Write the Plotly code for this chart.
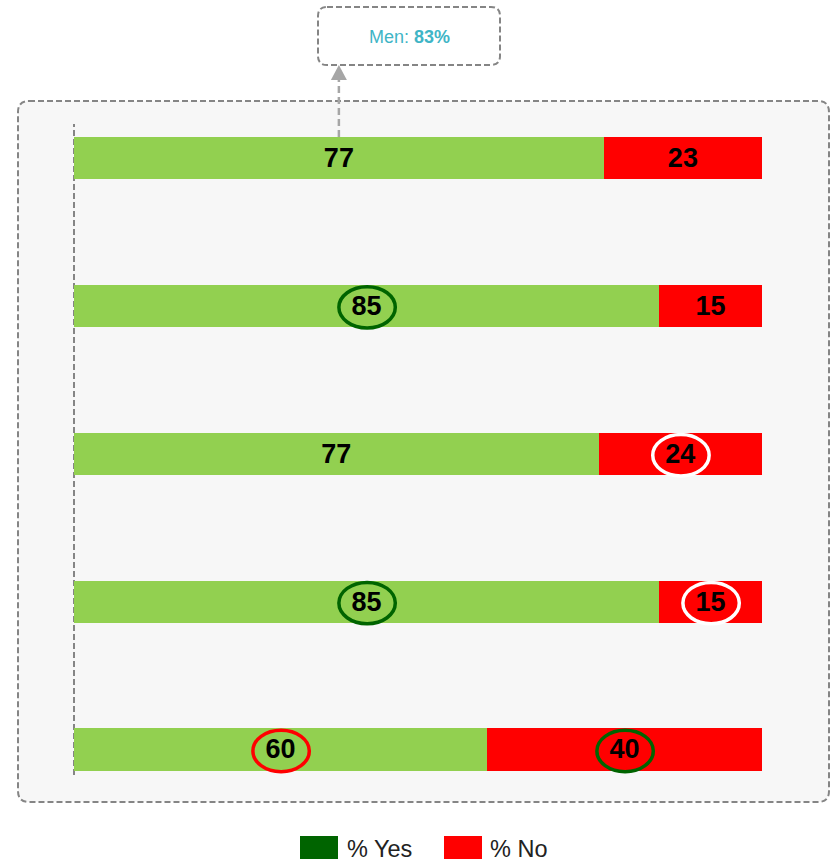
import plotly.graph_objects as go

# ---- data ----
categories = ["Q1", "Q2", "Q3", "Q4", "Q5"]
yes_values = [77, 85, 77, 85, 60]
no_values = [23, 15, 24, 15, 40]
yes_highlight = [None, "#006400", None, "#006400", "#ff0000"]
no_highlight = [None, None, "#ffffff", "#ffffff", "#006400"]
callout_text = "Men: <b>83%</b>"
legend_labels = ["% Yes", "% No"]

GREEN = "#92D050"
RED = "#FF0000"
DARK_GREEN = "#006400"
GREY = "#858585"

W, H = 831, 861
L, R, T, B = 74, 69, 124, 86
PW, PH = W - L - R, H - T - B


def X(px):
    return (px - L) / PW


def Y(py):
    return (H - B - py) / PH


def rounded_path(x0, y0, x1, y1, r):
    pts = []
    pts.append(f"M {X(x0 + r)},{Y(y0)}")
    pts.append(f"L {X(x1 - r)},{Y(y0)}")
    pts.append(f"Q {X(x1)},{Y(y0)} {X(x1)},{Y(y0 + r)}")
    pts.append(f"L {X(x1)},{Y(y1 - r)}")
    pts.append(f"Q {X(x1)},{Y(y1)} {X(x1 - r)},{Y(y1)}")
    pts.append(f"L {X(x0 + r)},{Y(y1)}")
    pts.append(f"Q {X(x0)},{Y(y1)} {X(x0)},{Y(y1 - r)}")
    pts.append(f"L {X(x0)},{Y(y0 + r)}")
    pts.append(f"Q {X(x0)},{Y(y0)} {X(x0 + r)},{Y(y0)}")
    pts.append("Z")
    return " ".join(pts)


label_font = dict(family="Liberation Sans, Arial", size=27, color="black")

fig = go.Figure()
fig.add_trace(go.Bar(
    y=categories, x=yes_values, orientation="h", name=legend_labels[0],
    marker=dict(color=GREEN, line=dict(width=0)), width=0.285,
    text=[f"<b>{v}</b>" for v in yes_values], textposition="inside",
    insidetextanchor="middle", textangle=0, textfont=label_font,
    showlegend=False, hoverinfo="skip",
))
fig.add_trace(go.Bar(
    y=categories, x=no_values, orientation="h", name=legend_labels[1],
    marker=dict(color=RED, line=dict(width=0)), width=0.285,
    text=[f"<b>{v}</b>" for v in no_values], textposition="inside",
    insidetextanchor="middle", textangle=0, textfont=label_font,
    showlegend=False, hoverinfo="skip",
))

shapes = []
# outer panel
shapes.append(dict(type="path", xref="paper", yref="paper",
                   path=rounded_path(18, 101, 829, 802, 11),
                   fillcolor="#f7f7f7", line=dict(color=GREY, width=2, dash="6px,3px"),
                   layer="below"))
# vertical axis line
shapes.append(dict(type="line", xref="paper", yref="paper", x0=0, x1=0, y0=0, y1=1,
                   line=dict(color=GREY, width=2, dash="6px,3px"), layer="below"))

# highlight ellipses
ew, eh = 8.2, 0.28
for i, (yv, nv) in enumerate(zip(yes_values, no_values)):
    tot = yv + nv
    yn = yv / tot * 100
    nn = nv / tot * 100
    cx_yes = yn / 2
    cx_no = yn + nn / 2
    for cx, col in ((cx_yes, yes_highlight[i]), (cx_no, no_highlight[i])):
        if col:
            shapes.append(dict(type="circle", xref="x", yref="y",
                               x0=cx - ew / 2 + 0.1, x1=cx + ew / 2 + 0.1,
                               y0=i - eh / 2 + 0.01, y1=i + eh / 2 + 0.01,
                               line=dict(color=col, width=3.5), layer="above"))

# callout arrow from first bar
arrow_x = yes_values[0] / (yes_values[0] + no_values[0]) * 100 / 2
shapes.append(dict(type="line", xref="x", yref="paper", x0=arrow_x, x1=arrow_x,
                   y0=Y(137), y1=Y(79),
                   line=dict(color="#a6a6a6", width=2.5, dash="7px,4px")))
ax_px = L + arrow_x / 100 * PW
shapes.append(dict(type="path", xref="paper", yref="paper",
                   path=f"M {X(ax_px - 8)},{Y(80)} L {X(ax_px + 8)},{Y(80)} L {X(ax_px)},{Y(65)} Z",
                   fillcolor="#a6a6a6", line=dict(width=0)))
# callout box
shapes.append(dict(type="path", xref="paper", yref="paper",
                   path=rounded_path(318, 7, 500, 65, 9),
                   fillcolor="white", line=dict(color=GREY, width=2, dash="6px,3px")))

# legend swatches
shapes.append(dict(type="rect", xref="paper", yref="paper",
                   x0=X(300), x1=X(338), y0=Y(859), y1=Y(836),
                   fillcolor=DARK_GREEN, line=dict(width=0)))
shapes.append(dict(type="rect", xref="paper", yref="paper",
                   x0=X(444), x1=X(482), y0=Y(859), y1=Y(836),
                   fillcolor=RED, line=dict(width=0)))

annotations = [
    dict(xref="paper", yref="paper", x=X(409), y=Y(37), text=callout_text,
         showarrow=False, xanchor="center", yanchor="middle",
         font=dict(family="Liberation Sans, Arial", size=18, color="#3fb5c6")),
    dict(xref="paper", yref="paper", x=X(345), y=Y(849), text=legend_labels[0],
         showarrow=False, xanchor="left", yanchor="middle",
         font=dict(family="Liberation Sans, Arial", size=23.5, color="#222222")),
    dict(xref="paper", yref="paper", x=X(488), y=Y(849), text=legend_labels[1],
         showarrow=False, xanchor="left", yanchor="middle",
         font=dict(family="Liberation Sans, Arial", size=23.5, color="#222222")),
]

fig.update_layout(
    width=W, height=H,
    margin=dict(l=L, r=R, t=T, b=B, pad=0),
    barmode="stack", barnorm="percent",
    paper_bgcolor="white", plot_bgcolor="rgba(0,0,0,0)",
    xaxis=dict(range=[0, 100], visible=False, fixedrange=True),
    yaxis=dict(range=[4.1725, -0.23], visible=False, fixedrange=True),
    shapes=shapes, annotations=annotations,
    showlegend=False,
    uniformtext=dict(mode=False),
)

fig.write_html("out.html")
